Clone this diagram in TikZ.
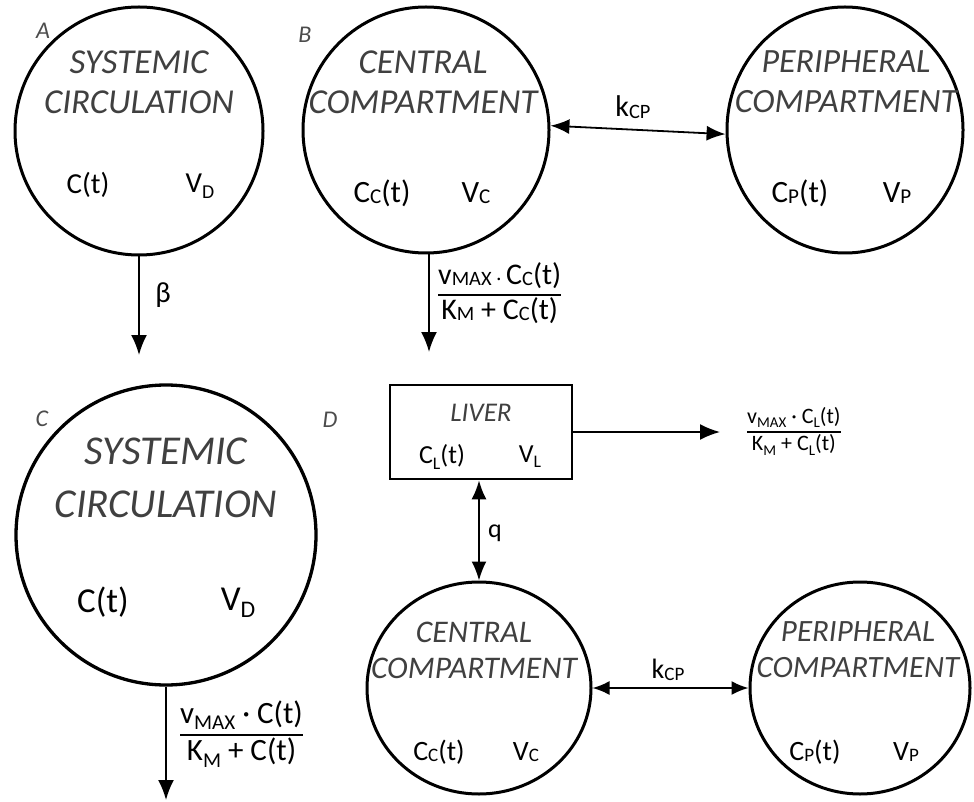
\documentclass[tikz,border=0pt]{standalone}
\usepackage{fontspec}
\setmainfont{Carlito}
\usepackage{graphicx}
\usetikzlibrary{shapes.geometric,arrows.meta}
\newcommand{\sbs}[1]{\raisebox{-0.2em}{\scalebox{0.68}{#1}}}
\newcommand{\sbu}[1]{\raisebox{-0.05em}{\scalebox{0.68}{#1}}}
\newcommand{\fsz}[2]{\fontsize{#1pt}{#2pt}\selectfont}
\newcommand{\frc}[2]{\setlength{\arrayrulewidth}{1.3pt}\begin{tabular}{@{}c@{}}\rule[-0.22em]{0pt}{0.95em}#1\\\hline\rule[-0.3em]{0pt}{1.02em}#2\end{tabular}}
\tikzset{
  comp/.style={draw, line width=3pt, circle, inner sep=0pt},
  compe/.style={draw, line width=3pt, ellipse, inner sep=0pt},
  title/.style={text=black!75, align=center, font=\itshape},
  val/.style={inner sep=0pt},
  panel/.style={text=black!70, font=\itshape\fsz{24}{28}, inner sep=0pt},
  conn/.style={line width=1.8pt, -{Latex[length=20pt,width=16pt]}},
  dconn/.style={line width=1.8pt, {Latex[length=19pt,width=15pt]}-{Latex[length=19pt,width=15pt]}},
}
\begin{document}
\begin{tikzpicture}[x=1pt,y=-1pt]
\useasboundingbox (0,0) rectangle (974,802);
% ---- A ----
\node[comp, minimum size=248pt] (A) at (139,131) {};
\node[title, font=\itshape\fsz{35}{40}] (Atitle) at (139,82) {SYSTEMIC\\CIRCULATION};
\node[val, font=\fsz{29}{34}] (Act) at (88,185) {C(t)};
\node[val, font=\fsz{29}{34}] (Avd) at (200,186) {V\sbs{D}};
\node[panel] (labA) at (43,31) {A};
\coordinate (Aend) at (139,355);
\draw[conn] (A.south) -- (Aend);
\node[val, font=\fsz{29}{34}] (beta) at (163,295) {β};
% ---- B ----
\node[comp, minimum size=246pt] (B) at (426,130) {};
\node[title, font=\itshape\fsz{35}{40}] (Btitle) at (423,82) {CENTRAL\\COMPARTMENT};
\node[val, font=\fsz{31}{36}] (Bcc) at (382,193) {C\sbu{C}(t)};
\node[val, font=\fsz{31}{36}] (Bvc) at (476,193) {V\sbu{C}};
\node[panel] (labB) at (305,35) {B};
\node[compe, minimum width=236pt, minimum height=246pt] (P) at (845,130) {};
\node[title, font=\itshape\fsz{34}{40}] (Ptitle) at (846,82) {PERIPHERAL\\COMPARTMENT};
\node[val, font=\fsz{31}{36}] (Pcp) at (800,193) {C\sbu{P}(t)};
\node[val, font=\fsz{31}{36}] (Pvp) at (897,193) {V\sbu{P}};
\draw[dconn] (B.2) -- (P.182);
\node[val, font=\fsz{30}{34}] (kcp1) at (633,107) {k\sbu{CP}};
\coordinate (Bend) at (429,352);
\draw[conn] (B.south -| Bend) -- (Bend);
\node[val, font=\fsz{30}{34}, anchor=west] (Bfrac) at (438,295) {\frc{v\sbu{MAX}\,\scalebox{0.6}{·}\,C\sbu{C}(t)}{K\sbu{M} + C\sbu{C}(t)}};
% ---- C ----
\node[comp, minimum size=300pt, line width=3.3pt] (C) at (166,535) {};
\node[title, font=\itshape\fsz{41}{53}] (Ctitle) at (166,478) {SYSTEMIC\\CIRCULATION};
\node[val, font=\fsz{35}{40}] (Cct) at (103,602) {C(t)};
\node[val, font=\fsz{35}{40}] (Cvd) at (238,603) {V\sbs{D}};
\node[panel] (labC) at (42,419) {C};
\coordinate (Cend) at (166,800);
\draw[conn] (C.south) -- (Cend);
\node[val, font=\fsz{31}{36}, anchor=west] (Cfrac) at (180,735) {\frc{v\sbs{MAX} · C(t)}{K\sbs{M} + C(t)}};
% ---- D ----
\node[panel] (labD) at (330,420) {D};
\node[draw, line width=2.8pt, minimum width=182pt, minimum height=94pt, inner sep=0pt] (L) at (481,432) {};
\node[title, font=\itshape\fsz{27}{32}] (Ltitle) at (481,413) {LIVER};
\node[val, font=\fsz{26}{30}] (Lcl) at (442,457) {C\sbs{L}(t)};
\node[val, font=\fsz{26}{30}] (Lvl) at (530,457) {V\sbs{L}};
\coordinate (Lend) at (720,432);
\draw[conn] (L.east) -- (Lend);
\node[val, font=\fsz{22}{26}, anchor=west] (Lfrac) at (747,432) {\frc{v\sbs{MAX} · C\sbs{L}(t)}{K\sbs{M} + C\sbs{L}(t)}};
\node[compe, minimum width=224pt, minimum height=212pt] (D1) at (479,688) {};
\node[title, font=\itshape\fsz{31.5}{36}] (D1title) at (474,650) {CENTRAL\\COMPARTMENT};
\node[val, font=\fsz{28}{32}] (D1cc) at (439,752) {C\sbu{C}(t)};
\node[val, font=\fsz{28}{32}] (D1vc) at (526,752) {V\sbu{C}};
\draw[dconn] (L.south -| D1.north) -- (D1.north);
\node[val, font=\fsz{26}{30}] (q) at (495,533) {q};
\node[compe, minimum width=220pt, minimum height=212pt] (D2) at (860,688) {};
\node[title, font=\itshape\fsz{31}{36}] (D2title) at (858,650) {PERIPHERAL\\COMPARTMENT};
\node[val, font=\fsz{28}{32}] (D2cp) at (815,752) {C\sbu{P}(t)};
\node[val, font=\fsz{28}{32}] (D2vp) at (906,752) {V\sbu{P}};
\draw[dconn, {Latex[length=17pt,width=14pt]}-{Latex[length=17pt,width=14pt]}] (D1.east) -- (D2.west);
\node[val, font=\fsz{28}{32}] (kcp2) at (668,670) {k\sbu{CP}};
\end{tikzpicture}
\end{document}
